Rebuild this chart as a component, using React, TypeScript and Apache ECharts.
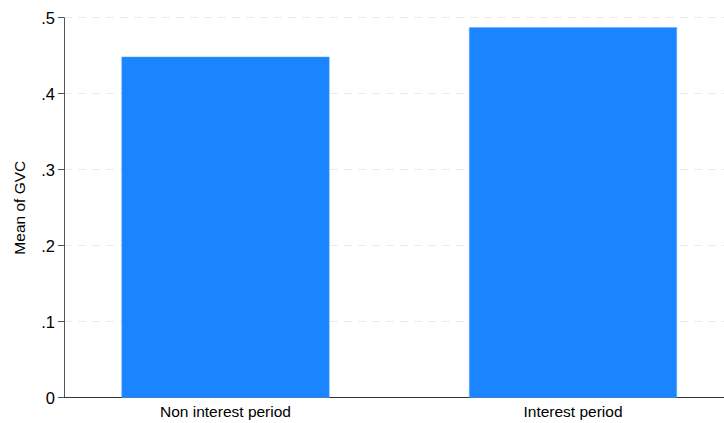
import React, { useEffect, useRef } from "react";
import * as echarts from "echarts";

const categories = ["Non interest period", "Interest period"];
const values = [0.4487, 0.4874];
const yTicks = [0, 0.1, 0.2, 0.3, 0.4, 0.5];
const yTickLabels = ["0", ".1", ".2", ".3", ".4", ".5"];

export default function App() {
  const ref = useRef<HTMLDivElement>(null);
  useEffect(() => {
    if (!ref.current) return;
    const chart = echarts.init(ref.current, null, { renderer: "svg" });
    const font = "'Liberation Sans', Arial, Helvetica, sans-serif";
    chart.setOption({
      animation: false,
      backgroundColor: "#ffffff",
      grid: {
        left: 64,
        right: 0,
        top: 17.7,
        bottom: 25.3,
        containLabel: false,
        outerBoundsMode: "none",
      },
      xAxis: {
        type: "value",
        min: -0.4647,
        max: 1.4345,
        axisLine: { show: true, onZero: false, lineStyle: { color: "#333", width: 1 } },
        axisTick: { show: false },
        splitLine: { show: false },
        axisLabel: {
          customValues: [0, 1],
          formatter: (v: number) => categories[Math.round(v)] ?? "",
          color: "#000",
          fontFamily: font,
          fontSize: 15.5,
          margin: 6,
        },
      },
      yAxis: {
        type: "value",
        min: 0,
        max: 0.5,
        interval: 0.1,
        name: "Mean of GVC",
        nameLocation: "middle",
        nameGap: 37,
        nameTextStyle: { color: "#000", fontFamily: font, fontSize: 15.5 },
        axisLine: { show: true, onZero: false, lineStyle: { color: "#555", width: 1 } },
        axisTick: { show: true, length: 6, lineStyle: { color: "#555" } },
        axisLabel: {
          color: "#000",
          fontFamily: font,
          fontSize: 16.5,
          margin: 9,
          formatter: (v: number) => {
            const i = yTicks.findIndex((t) => Math.abs(t - v) < 1e-9);
            return i >= 0 ? yTickLabels[i] : "";
          },
        },
        splitLine: {
          show: true,
          lineStyle: { color: "#ebebeb", type: [8, 6], width: 1 },
        },
      },
      series: [
        {
          type: "bar",
          data: values.map((v, i) => [i, v]),
          barWidth: 208,
          itemStyle: { color: "#1a85ff", borderColor: "#5ea9ff", borderWidth: 0.5 },
          z: 3,
        },
      ],
    });
    return () => chart.dispose();
  }, []);
  return (
    <div
      ref={ref}
      style={{ position: "fixed", left: 0, top: 0, width: 724, height: 423 }}
    />
  );
}
